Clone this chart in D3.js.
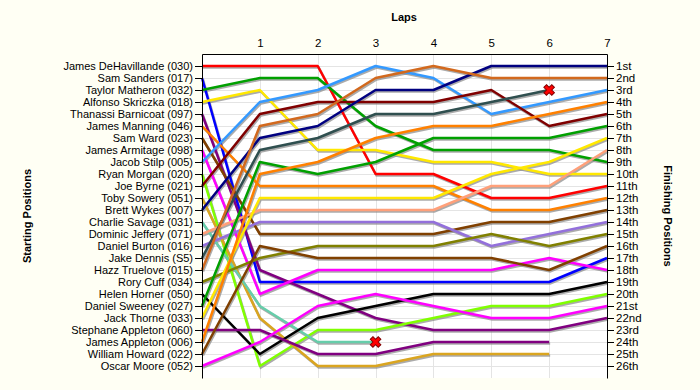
<!DOCTYPE html>
<meta charset="utf-8">
<style>
body { margin: 0; background: #fffff4; }
svg { font-family: 'Liberation Sans', Arial, sans-serif; }
.axis text { font-size: 11.5px; fill: #000; }
.axis.start text { font-size: 11px; }
.title { font-size: 11px; font-weight: bold; }
</style>
<body>
<script src="https://d3js.org/d3.v7.min.js"></script>
<div id="chart"></div>
<script>

// drivers in starting order
var drivers = [
  "James DeHavillande (030)", "Sam Sanders (017)", "Taylor Matheron (032)",
  "Alfonso Skriczka (018)", "Thanassi Barnicoat (097)", "James Manning (046)",
  "Sam Ward (023)", "James Armitage (098)", "Jacob Stilp (005)",
  "Ryan Morgan (020)", "Joe Byrne (021)", "Toby Sowery (051)",
  "Brett Wykes (007)", "Charlie Savage (031)", "Dominic Jeffery (071)",
  "Daniel Burton (016)", "Jake Dennis (S5)", "Hazz Truelove (015)",
  "Rory Cuff (034)", "Helen Horner (050)", "Daniel Sweeney (027)",
  "Jack Thorne (033)", "Stephane Appleton (060)", "James Appleton (006)",
  "William Howard (022)", "Oscar Moore (052)"
];

var colors = [
  "#ff0000", "#0000ff", "#00a000", "#ffe800", "#800080", "#ff8000",
  "#804000", "#ff00ff", "#3399ff", "#80ff00", "#800000", "#daa520",
  "#000080", "#66cdaa", "#ffa07a", "#9370db", "#2f4f4f", "#d2691e",
  "#808000", "#000000", "#00a000", "#ffe800", "#800080", "#ff8000",
  "#804000", "#ff00ff"
];

// position after each lap (lap 0 = grid); shorter lists = retired / lapped
var positions = [
  [1, 1, 1, 10, 10, 12, 12, 11],
  [2, 19, 19, 19, 19, 19, 19, 17],
  [3, 2, 2, 6, 8, 8, 8, 9],
  [4, 3, 8, 8, 9, 9, 10, 10],
  [5, 18, 20, 22, 23, 23, 23, 22],
  [6, 11, 11, 11, 11, 13, 13, 12],
  [7, 15, 15, 15, 15, 14, 14, 13],
  [8, 20, 18, 18, 18, 18, 17, 18],
  [9, 4, 3, 1, 2, 5, 4, 3],
  [10, 26, 23, 23, 22, 21, 21, 20],
  [11, 5, 4, 4, 4, 3, 6, 5],
  [12, 22, 26, 26, 25, 25, 25],
  [13, 7, 6, 3, 3, 1, 1, 1],
  [14, 21, 24, 24],
  [15, 13, 13, 13, 13, 11, 11, 8],
  [16, 14, 14, 14, 14, 16, 15, 14],
  [17, 8, 7, 5, 5, 4, 3],
  [18, 6, 5, 2, 1, 2, 2, 2],
  [19, 17, 16, 16, 16, 15, 16, 15],
  [20, 25, 22, 21, 20, 20, 20, 19],
  [21, 9, 10, 9, 7, 7, 7, 6],
  [22, 12, 12, 12, 12, 10, 9, 7],
  [23, 23, 25, 25, 24, 24, 24],
  [24, 10, 9, 7, 6, 6, 5, 4],
  [25, 16, 17, 17, 17, 17, 18, 16],
  [26, 24, 21, 20, 21, 22, 22, 21]
];

// drivers whose race ended in a crash (marked with a cross)
var crashed = ["Charlie Savage (031)", "Jake Dennis (S5)"];

var laps = [1, 2, 3, 4, 5, 6, 7];
var finishLabels = ["1st", "2nd", "3rd", "4th", "5th", "6th", "7th", "8th", "9th",
  "10th", "11th", "12th", "13th", "14th", "15th", "16th", "17th", "18th", "19th",
  "20th", "21st", "22nd", "23rd", "24th", "25th", "26th"];

var width = 700, height = 390;
var svg = d3.select("#chart").append("svg")
  .attr("width", width)
  .attr("height", height);

var x = d3.scaleLinear().domain([0, 7]).range([202, 607]);
var y = d3.scaleLinear().domain([0, 27]).range([54, 378]);
var slots = d3.range(1, 27);

// plot background
svg.append("rect")
  .attr("x", x(0)).attr("y", y(0))
  .attr("width", x(7) - x(0)).attr("height", y(27) - y(0))
  .attr("fill", "#ffffff");

// grid
svg.append("g").selectAll("line")
  .data(slots)
  .enter().append("line")
    .attr("x1", x(0)).attr("x2", x(7))
    .attr("y1", function(d) { return y(d) + 0.5; })
    .attr("y2", function(d) { return y(d) + 0.5; })
    .attr("stroke", "#e4e4e4");
svg.append("g").selectAll("line")
  .data(laps.slice(0, 6))
  .enter().append("line")
    .attr("x1", function(d) { return Math.round(x(d)) + 0.5; })
    .attr("x2", function(d) { return Math.round(x(d)) + 0.5; })
    .attr("y1", y(0)).attr("y2", y(27))
    .attr("stroke", "#e4e4e4");

var line = d3.line()
  .x(function(d, i) { return x(i); })
  .y(function(d) { return y(d); });

var data = drivers.map(function(name, i) {
  return { name: name, color: colors[i], pos: positions[i] };
});

// shadows first, then coloured lines
var traces = svg.append("g");
traces.selectAll("path.shadow")
  .data(data)
  .enter().append("path")
    .attr("class", "shadow")
    .attr("d", function(d) { return line(d.pos); })
    .attr("transform", "translate(1,1.5)")
    .attr("fill", "none")
    .attr("stroke", "#888")
    .attr("stroke-opacity", 0.7)
    .attr("stroke-width", 2.5);
traces.selectAll("path.trace")
  .data(data)
  .enter().append("path")
    .attr("class", "trace")
    .attr("d", function(d) { return line(d.pos); })
    .attr("fill", "none")
    .attr("stroke", function(d) { return d.color; })
    .attr("stroke-width", 2.5)
    .attr("stroke-linejoin", "round");

// crash markers
var cross = d3.symbol().type(d3.symbolCross).size(70);
svg.append("g").selectAll("path")
  .data(data.filter(function(d) { return crashed.indexOf(d.name) >= 0; }))
  .enter().append("path")
    .attr("d", cross)
    .attr("transform", function(d) {
      var last = d.pos.length - 1;
      return "translate(" + x(last) + "," + y(d.pos[last]) + ") rotate(45)";
    })
    .attr("fill", "#ff0000")
    .attr("stroke", "#800000")
    .attr("stroke-width", 1);

// axes
svg.append("g")
  .attr("class", "axis")
  .attr("transform", "translate(0," + y(0) + ")")
  .call(d3.axisTop(x).tickValues(laps).tickSize(0).tickPadding(7)
    .tickFormat(d3.format("d")))
  .call(function(g) { g.select(".domain").attr("stroke", "#000"); });

svg.append("g")
  .attr("class", "axis start")
  .attr("transform", "translate(" + x(0) + ",0)")
  .call(d3.axisLeft(y).tickValues(slots).tickSize(7).tickPadding(2)
    .tickSizeOuter(0)
    .tickFormat(function(d) { return drivers[d - 1]; }));

svg.append("g")
  .attr("class", "axis")
  .attr("transform", "translate(" + x(7) + ",0)")
  .call(d3.axisRight(y).tickValues(slots).tickSize(7).tickPadding(2)
    .tickSizeOuter(0)
    .tickFormat(function(d) { return finishLabels[d - 1]; }));

// titles
svg.append("text")
  .attr("class", "title")
  .attr("x", 404).attr("y", 21)
  .attr("text-anchor", "middle")
  .text("Laps");

svg.append("text")
  .attr("class", "title")
  .attr("transform", "translate(31,216) rotate(-90)")
  .attr("text-anchor", "middle")
  .text("Starting Positions");

svg.append("text")
  .attr("class", "title")
  .attr("transform", "translate(664,216) rotate(90)")
  .attr("text-anchor", "middle")
  .text("Finishing Positions");

</script>
</body>
